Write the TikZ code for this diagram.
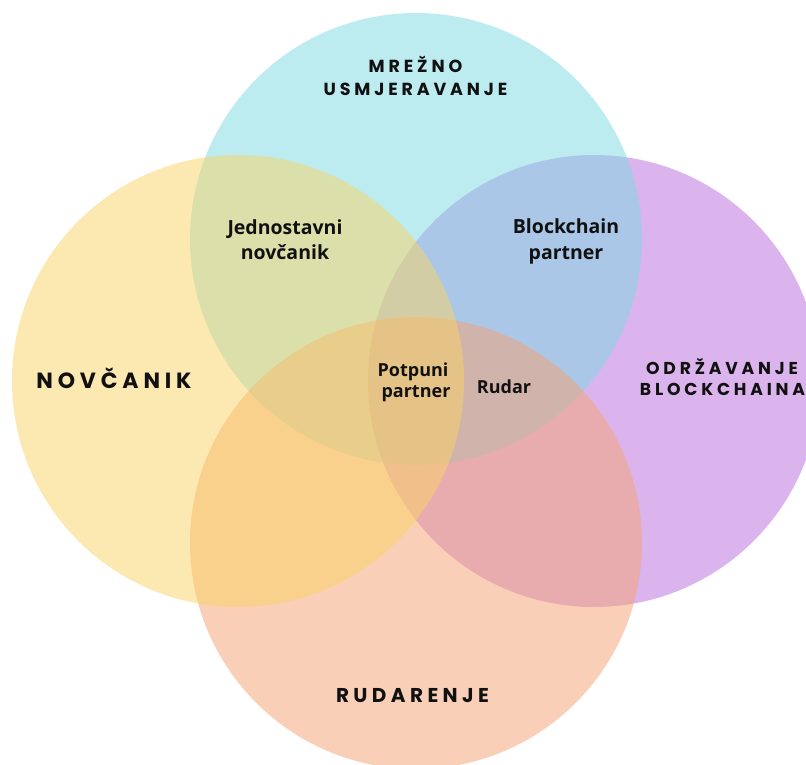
\documentclass[tikz,border=0pt]{standalone}
\usepackage{fontspec}
\setmainfont{Open Sans}
\newfontfamily\ttlfont{Poppins}[LetterSpace=22]
\definecolor{cyanc}{RGB}{123,219,227}
\definecolor{yellowc}{RGB}{250,211,101}
\definecolor{purplec}{RGB}{187,107,221}
\definecolor{orangec}{RGB}{245,163,113}
\definecolor{ink}{RGB}{17,17,17}
\begin{document}
\begin{tikzpicture}[x=1pt,y=-1pt,
  blob/.style={fill opacity=0.5},
  title/.style={text=ink,inner sep=0pt,anchor=base,font=\ttlfont\bfseries\fontsize{#1}{#1}\selectfont},
  inlabel/.style={text=ink,inner sep=0pt,anchor=base,font=\bfseries\fontsize{#1}{#1}\selectfont}]
\useasboundingbox (0,0) rectangle (806,764);
\clip (0,0) rectangle (806,764);
\fill[white] (0,0) rectangle (806,764);
\fill[purplec,blob] (594,381) circle (226);
\fill[cyanc,blob] (416,239) circle (226);
\fill[orangec,blob] (416,543) circle (226);
\fill[yellowc,blob] (238,381) circle (226);
% titles
\node[title=17.5] (t1a) at (415.5,72) {MREŽNO};
\node[title=17.5] (t1b) at (415.5,95) {USMJERAVANJE};
\node[title=22] (t2) at (114,388) {NOVČANIK};
\node[title=17.2] (t3a) at (722,374) {ODRŽAVANJE};
\node[title=17.2] (t3b) at (722.5,395) {BLOCKCHAINA};
\node[title=20] (t4) at (412.5,702) {RUDARENJE};
% inner labels
\node[inlabel=19.5] (j1) at (285,234) {Jednostavni};
\node[inlabel=19.5] (j2) at (285,259) {novčanik};
\node[inlabel=19.5] (b1) at (566,233) {Blockchain};
\node[inlabel=19.5] (b2) at (566,259) {partner};
\node[inlabel=18] (p1) at (413,376) {Potpuni};
\node[inlabel=18] (p2) at (416,397) {partner};
\node[inlabel=18] (r1) at (504,393) {Rudar};
\end{tikzpicture}
\end{document}
